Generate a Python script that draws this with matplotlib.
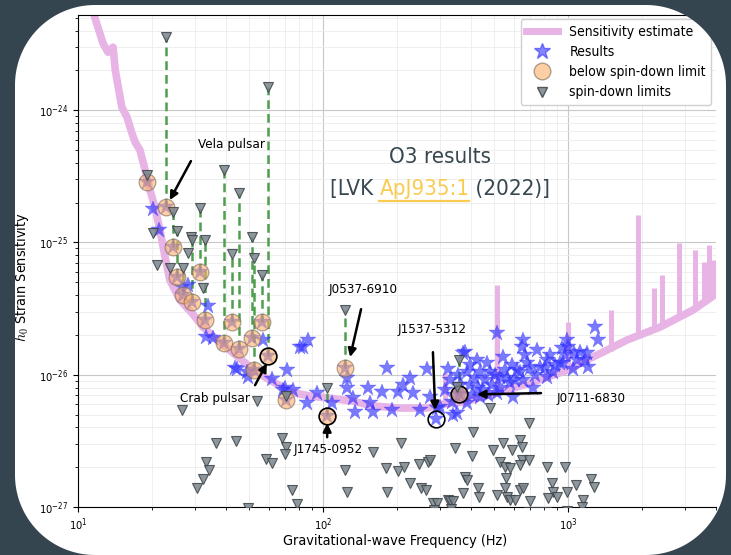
import numpy as np
import matplotlib
matplotlib.use('Agg')
import matplotlib.pyplot as plt
from matplotlib.path import Path
from matplotlib.patches import PathPatch
from matplotlib.lines import Line2D

plt.rcParams['font.family'] = ['DejaVu Sans']
plt.rcParams['font.stretch'] = 'condensed'
plt.rcParams['mathtext.fontset'] = 'cm'

# O3 sensitivity estimate (broadband part)
sens_freq = [11.4, 11.7, 12.65, 13.26, 13.9, 14.2, 15.1, 15.85, 16.6, 17.1, 17.9, 18.8,
             19.3, 20.6, 21.6, 22.6, 23.7, 26.1, 29.2, 32.4, 38.0, 44.6, 51.8, 59.0,
             64.9, 73.3, 88.5, 110, 133, 160, 206, 266, 309, 373, 513, 700, 991,
             1264, 1742, 2374, 3236, 3908]
sens_h = [6.2e-24, 5.05e-24, 3.2e-24, 2.74e-24, 2.99e-24, 2.0e-24, 1.05e-24, 8.85e-25,
          6.7e-25, 5.73e-25, 4.99e-25, 3.52e-25, 2.81e-25, 1.85e-25, 1.24e-25, 8.0e-26,
          5.19e-26, 3.66e-26, 2.92e-26, 2.29e-26, 1.76e-26, 1.38e-26, 1.10e-26, 9.4e-27,
          8.5e-27, 7.4e-27, 6.9e-27, 6.6e-27, 6.3e-27, 5.8e-27, 5.6e-27, 5.6e-27,
          6.0e-27, 6.2e-27, 7.3e-27, 8.65e-27, 1.08e-26, 1.36e-26, 1.83e-26, 2.29e-26,
          3.08e-26, 3.93e-26]

# narrow instrumental lines in the sensitivity
line_freq = [315, 513, 1000, 1500, 1932, 2245, 2420, 2840, 3300, 3590, 3763, 3908]
line_base = [6.0e-27, 7.3e-27, 1.08e-26, 1.5e-26, 1.9e-26, 2.2e-26, 2.35e-26, 2.7e-26,
             3.1e-26, 3.4e-26, 3.7e-26, 3.9e-26]
line_top = [1.03e-26, 4.75e-26, 2.5e-26, 3.08e-26, 1.6e-25, 4.52e-26, 5.66e-26, 9.9e-26,
            8.75e-26, 7.1e-26, 9.6e-26, 7.35e-26]

# h0 upper limits (results) for the pulsars not beating the spin-down limit
res_freq = [20.2, 21.4, 26.6, 28.1, 33.9, 33.3, 35.6, 43.6, 49.4, 56.9, 62.0, 70.0, 71.4,
            68.6, 75.7, 80.5, 83, 86.8, 86, 94.5, 109, 125, 125, 133, 135, 153, 155, 160,
            174, 183, 191, 202, 212, 226, 233, 249, 266, 273, 292, 324, 340, 373, 388, 425,
            450, 481, 380, 513, 543, 580, 655, 649, 747, 769, 821, 869, 946, 991, 1000,
            1120, 1172, 1205, 1289, 1324, 655, 719, 597, 513, 437, 388, 352, 300, 528, 467,
            620, 680, 821, 928, 1089, 1197, 1060, 1047, 955, 44.6, 49, 315, 330, 346, 362,
            369, 398, 406, 417, 429, 458, 471, 490, 504, 528, 553, 564, 591, 608, 637, 667,
            700, 733, 806, 845, 885, 973, 398, 356, 336, 437, 289]
res_h = [1.79e-25, 1.24e-25, 4.6e-26, 4.8e-26, 3.3e-26, 1.92e-26, 1.89e-26, 1.12e-26,
         9.6e-27, 1.83e-26, 9.3e-27, 7.9e-27, 1.08e-26, 7.65e-27, 7.65e-27, 1.62e-26,
         1.62e-26, 1.83e-26, 6.1e-27, 7.26e-27, 6.1e-27, 9.4e-27, 7.9e-27, 6.65e-27,
         5.2e-27, 8.0e-27, 6.1e-27, 5.2e-27, 7.4e-27, 1.13e-26, 5.4e-27, 7.4e-27, 8.3e-27,
         9.4e-27, 7.3e-27, 5.4e-27, 1.1e-26, 6.8e-27, 5.6e-27, 1.1e-26, 5.0e-27, 1.46e-26,
         1.04e-26, 1.29e-26, 7.65e-27, 1.04e-26, 1.49e-26, 2.06e-26, 1.36e-26, 8.65e-27,
         1.83e-26, 1.62e-26, 1.53e-26, 1.14e-26, 1.29e-26, 1.04e-26, 1.58e-26, 1.83e-26,
         1.62e-26, 1.49e-26, 1.29e-26, 1.14e-26, 2.29e-26, 1.83e-26, 9.1e-27, 8.0e-27,
         6.8e-27, 7.3e-27, 6.8e-27, 6.1e-27, 5.15e-27, 5.7e-27, 9.6e-27, 1.22e-26, 1.08e-26,
         1.22e-26, 9.6e-27, 1.22e-26, 1.29e-26, 1.46e-26, 1.46e-26, 1.11e-26, 1.22e-26,
         1.1e-26, 1.04e-26, 7.65e-27, 9.1e-27, 7.0e-27, 8.35e-27, 7.0e-27, 8.35e-27, 7.0e-27,
         9.4e-27, 7.9e-27, 9.1e-27, 7.0e-27, 8.35e-27, 9.9e-27, 7.9e-27, 1.08e-26, 9.4e-27,
         1.18e-26, 9.1e-27, 1.04e-26, 1.41e-26, 1.13e-26, 9.9e-27, 1.13e-26, 1.41e-26,
         1.18e-26, 1.41e-26, 1.18e-26, 9.9e-27, 6.2e-27, 1.04e-26, 4.6e-27]

# pulsars whose result is below the spin-down limit
bsd_freq = [19.1, 22.8, 24.4, 25.4, 26.8, 29.2, 31.5, 33.0, 39.4, 42.5, 45.4, 51.3, 56.4,
            52.3, 59.6, 70.6, 123, 104, 359]
bsd_h = [2.86e-25, 1.85e-25, 9.2e-26, 5.5e-26, 4.0e-26, 3.54e-26, 5.96e-26, 2.59e-26,
         1.73e-26, 2.50e-26, 1.56e-26, 1.89e-26, 2.50e-26, 1.08e-26, 1.38e-26, 6.4e-27,
         1.12e-26, 4.86e-27, 7.1e-27]
bsd_spindown = [3.23e-25, 3.6e-24, 1.69e-25, 1.22e-25, 6.4e-26, 1.04e-25, 1.82e-25,
                1.04e-25, 3.52e-25, 8.17e-26, 2.36e-25, 1.10e-25, 5.66e-26, 7.6e-26,
                1.49e-24, 6.9e-27, 3.1e-26, 7.9e-27, 1.29e-26]

# spin-down limits of the remaining pulsars
sd_freq = [26.6, 53.8, 36.6, 44.2, 68.0, 70.6, 70.0, 58.5, 62.0, 33.3, 34.3, 32.4, 30.6,
           74.6, 78.3, 49.4, 160, 208, 123, 125, 181, 202, 214, 247, 268, 226, 183, 251,
           263, 281, 324, 481, 693, 409, 346, 406, 543, 494, 591, 637, 649, 528, 553, 580,
           649, 693, 637, 821, 973, 380, 388, 558, 373, 429, 433, 513, 553, 564, 637, 655,
           580, 608, 700, 861, 869, 828, 902, 991, 1079, 1151, 1241, 1277, 330, 340, 273,
           292, 284, 334, 494, 690, 755, 813, 991, 1140, 20.2, 21.0, 23.7, 28.9, 28.1,
           32.4, 352]
sd_h = [5.4e-27, 6.3e-27, 3.04e-27, 3.15e-27, 3.32e-27, 2.84e-27, 2.51e-27, 2.30e-27,
        2.15e-27, 2.19e-27, 1.90e-27, 1.63e-27, 1.39e-27, 1.34e-27, 1.05e-27, 0.98e-27,
        2.60e-27, 3.04e-27, 1.90e-27, 1.30e-27, 1.97e-27, 1.87e-27, 2.0e-27, 2.11e-27,
        2.19e-27, 1.51e-27, 1.30e-27, 1.39e-27, 1.34e-27, 1.07e-27, 1.13e-27, 5.6e-27,
        4.3e-27, 3.68e-27, 2.79e-27, 2.43e-27, 3.04e-27, 2.69e-27, 2.69e-27, 3.21e-27,
        2.84e-27, 2.19e-27, 2.0e-27, 1.97e-27, 2.26e-27, 2.26e-27, 2.08e-27, 2.0e-27,
        2.0e-27, 1.69e-27, 1.60e-27, 1.66e-27, 1.27e-27, 1.39e-27, 1.19e-27, 1.23e-27,
        1.39e-27, 1.19e-27, 1.34e-27, 1.39e-27, 1.13e-27, 1.13e-27, 1.11e-27, 1.51e-27,
        1.30e-27, 1.17e-27, 1.19e-27, 1.30e-27, 1.46e-27, 1.13e-27, 1.63e-27, 1.41e-27,
        1.11e-27, 1.11e-27, 2.26e-27, 1.07e-27, 0.95e-27, 0.97e-27, 0.9e-27, 0.92e-27,
        0.92e-27, 0.92e-27, 0.93e-27, 1.0e-27, 1.17e-25, 6.7e-26, 6.4e-26, 1.1e-25,
        8.3e-26, 4.5e-26, 8.05e-27]

# named pulsars: label, label position, arrow tail, arrow head
named = [
    ('Vela pulsar', (42.1, 5.53e-25), (28.9, 4.12e-25), (23.7, 2.09e-25)),
    ('Crab pulsar', (36.2, 6.65e-27), (52.8, 8.34e-27), (59.0, 1.22e-26)),
    ('J0537-6910', (145.6, 4.43e-26), (143, 3.13e-26), (129, 1.36e-26)),
    ('J1537-5312', (279, 2.21e-26), (281, 1.48e-26), (287, 5.4e-27)),
    ('J1745-0952', (104.8, 2.74e-27), (104, 3.37e-27), (104, 4.3e-27)),
    ('J0711-6830', (1241, 6.65e-27), (776, 7.26e-27), (425, 7.1e-27)),
]
ring_freq = [59.6, 104, 359, 289]
ring_h = [1.38e-26, 4.86e-27, 7.1e-27, 4.6e-27]

sens_color = '#e8b4e6'
dark = '#35454f'

fig = plt.figure(figsize=(7.31, 5.55), dpi=100)
fig.patch.set_facecolor('white')
ax = fig.add_axes([78 / 731, 48 / 555, 637.5 / 731, 492 / 555])
ax.set_xscale('log')
ax.set_yscale('log')
ax.set_xlim(10, 4000)
ax.set_ylim(1e-27, 5.24e-24)

ax.grid(which='major', color='#c8c8c8', lw=0.8)
ax.grid(which='minor', color='#ececec', lw=0.6)
ax.set_axisbelow(True)

ax.plot(sens_freq, sens_h, color=sens_color, lw=5.5, solid_joinstyle='round',
        solid_capstyle='round', zorder=1)
ax.vlines(line_freq, line_base, line_top, color=sens_color, lw=3.6, zorder=1)

ax.vlines(bsd_freq, bsd_h, bsd_spindown, colors='#4f9e4f', linestyles=(0, (3.5, 2)),
          lw=1.8, zorder=2)

ax.plot(res_freq + bsd_freq, res_h + bsd_h, ls='none', marker='*', ms=12,
        color='#3333ff', mec='#3333ff', mew=0.3, alpha=0.65, zorder=3)
ax.plot(bsd_freq, bsd_h, ls='none', marker='o', ms=12, mfc='#fbb268', mec='#7d6a5a',
        mew=0.9, alpha=0.6, zorder=4)
ax.plot(ring_freq, ring_h, ls='none', marker='o', ms=12, mfc='none', mec='black',
        mew=1.2, zorder=5)
ax.plot(sd_freq + bsd_freq, sd_h + bsd_spindown, ls='none', marker='v', ms=7,
        mfc='#7a858c', mec='#3c4448', mew=0.8, alpha=0.85, zorder=6)

for label, pos, tail, head in named:
    ax.text(pos[0], pos[1], label, ha='center', va='center', fontsize=9.6, zorder=7)
    ax.annotate('', xy=head, xytext=tail,
                arrowprops=dict(arrowstyle='-|>', color='black', lw=1.8,
                                mutation_scale=12, shrinkA=0, shrinkB=0), zorder=7)

handles = [
    Line2D([], [], color=sens_color, lw=5),
    Line2D([], [], ls='none', marker='*', ms=12, color='#3333ff', alpha=0.6),
    Line2D([], [], ls='none', marker='o', ms=12, mfc='#fbb268', mec='#7d6a5a', alpha=0.6),
    Line2D([], [], ls='none', marker='v', ms=7, mfc='#7a858c', mec='#3c4448', alpha=0.85),
]
ax.legend(handles, ['Sensitivity estimate', 'Results', 'below spin-down limit',
                    'spin-down limits'],
          loc='upper right', fontsize=10, framealpha=1, edgecolor='#d0d0d0',
          borderaxespad=0.3, handlelength=2.3, labelspacing=0.45)

ax.set_xlabel('Gravitational-wave Frequency (Hz)', fontsize=10.4)
ax.set_ylabel(r'$h_0$ Strain Sensitivity', fontsize=10.4)
ax.xaxis.set_label_coords(0.497, -0.055)
ax.yaxis.set_label_coords(-0.074, 0.467)
ax.tick_params(labelsize=8)
ax.spines['right'].set_visible(False)

# headline with reference
title_color = '#37474f'
ax.text(0.568, 0.699, 'O3 results', transform=ax.transAxes, ha='center',
        va='baseline', fontsize=16, color=title_color, zorder=8)
parts = [('[LVK ', title_color), ('ApJ935:1', '#f9cb50'), (' (2022)]', title_color)]
pieces = [ax.text(0.5, 0.634, s, transform=ax.transAxes, ha='left', va='baseline',
                  fontsize=16, color=c, zorder=8)
          for s, c in parts]
fig.canvas.draw()
renderer = fig.canvas.get_renderer()
widths = [p.get_window_extent(renderer).width for p in pieces]
cx = ax.transAxes.transform((0.568, 0.634))
x_start = cx[0] - sum(widths) / 2
inv = ax.transAxes.inverted()
xpos = x_start
for p, w in zip(pieces, widths):
    p.set_position((inv.transform((xpos, cx[1]))[0], 0.634))
    xpos += w
fig.canvas.draw()
bb = pieces[1].get_window_extent(renderer)
ul_y = cx[1] - 6
fig.add_artist(Line2D([bb.x0 / 731, bb.x1 / 731], [ul_y / 555, ul_y / 555],
                      color='#f9cb50', lw=1.6))

# dark frame with rounded opening
W, H = 7.31, 5.55
x0, x1, y0, y1, r = 0.15, 7.26, 0.0, 5.50, 0.80
inner = []
for ccx, ccy, a0 in [(x1 - r, y1 - r, 0), (x0 + r, y1 - r, 90),
                     (x0 + r, y0 + r, 180), (x1 - r, y0 + r, 270)]:
    t = np.radians(np.linspace(a0, a0 + 90, 40))
    inner += list(zip(ccx + r * np.cos(t), ccy + r * np.sin(t)))
outer = [(-0.1, -0.1), (-0.1, H + 0.1), (W + 0.1, H + 0.1), (W + 0.1, -0.1)]
verts = outer + [outer[0]] + inner + [inner[0]]
codes = ([Path.MOVETO] + [Path.LINETO] * 3 + [Path.CLOSEPOLY] +
         [Path.MOVETO] + [Path.LINETO] * (len(inner) - 1) + [Path.CLOSEPOLY])
frame = PathPatch(Path(verts, codes), facecolor=dark, edgecolor='none',
                  transform=fig.dpi_scale_trans, zorder=100)
fig.add_artist(frame)

fig.savefig('out.png', dpi=100, facecolor=fig.get_facecolor())
